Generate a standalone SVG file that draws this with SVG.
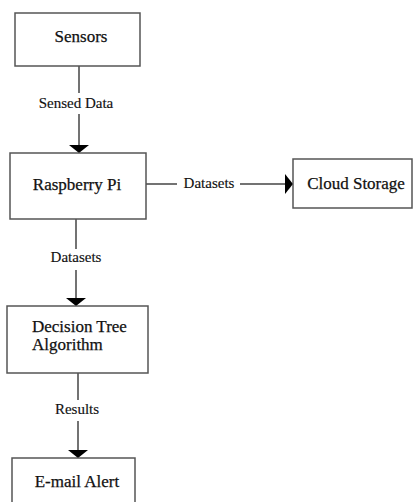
<svg xmlns="http://www.w3.org/2000/svg" width="415" height="502" viewBox="0 0 415 502">
<defs>
<marker id="arr" markerWidth="8" markerHeight="20" refX="8" refY="10" orient="auto" markerUnits="userSpaceOnUse" viewBox="0 0 8 20">
<path d="M0,0 L8,10 L0,20 Z" fill="#000"/>
</marker>
<style>
.box{fill:#fff;stroke:#555;stroke-width:1.5}
.nt{font-family:"Liberation Serif","Times New Roman",serif;font-size:17px;fill:#111;stroke:#111;stroke-width:0.25}
.lt{font-family:"Liberation Serif","Times New Roman",serif;font-size:15px;fill:#111;stroke:#111;stroke-width:0.15}
.ln{stroke:#444;stroke-width:1.5;fill:none}
</style>
</defs>
<rect width="415" height="502" fill="#fff"/>
<g id="connectors">
<line class="ln" x1="79" y1="66" x2="79" y2="93"/>
<line class="ln" x1="79" y1="114" x2="79" y2="153" marker-end="url(#arr)"/>
<text class="lt" x="76" y="108" text-anchor="middle">Sensed Data</text>
<line class="ln" x1="146" y1="184" x2="177" y2="184"/>
<line class="ln" x1="240" y1="184" x2="293" y2="184" marker-end="url(#arr)"/>
<text class="lt" x="209" y="188" text-anchor="middle">Datasets</text>
<line class="ln" x1="76" y1="219" x2="76" y2="249"/>
<line class="ln" x1="76" y1="270" x2="76" y2="306" marker-end="url(#arr)"/>
<text class="lt" x="76" y="262" text-anchor="middle">Datasets</text>
<line class="ln" x1="78" y1="373" x2="78" y2="400"/>
<line class="ln" x1="78" y1="421" x2="78" y2="458" marker-end="url(#arr)"/>
<text class="lt" x="77" y="414" text-anchor="middle">Results</text>
</g>
<g id="sensors">
<rect class="box" x="15" y="13" width="125" height="53"/>
<text class="nt" x="81" y="42" text-anchor="middle">Sensors</text>
</g>
<g id="raspberry">
<rect class="box" x="10" y="153" width="136" height="66"/>
<text class="nt" x="77" y="190" text-anchor="middle">Raspberry Pi</text>
</g>
<g id="cloud">
<rect class="box" x="293" y="159" width="119" height="49"/>
<text class="nt" x="356" y="189" text-anchor="middle">Cloud Storage</text>
</g>
<g id="decision">
<rect class="box" x="7" y="306" width="141" height="67"/>
<text class="nt" x="32" y="332">Decision Tree</text>
<text class="nt" x="32" y="350">Algorithm</text>
</g>
<g id="email">
<rect class="box" x="12" y="458" width="123" height="50"/>
<text class="nt" x="77" y="487" text-anchor="middle">E-mail Alert</text>
</g>
</svg>
